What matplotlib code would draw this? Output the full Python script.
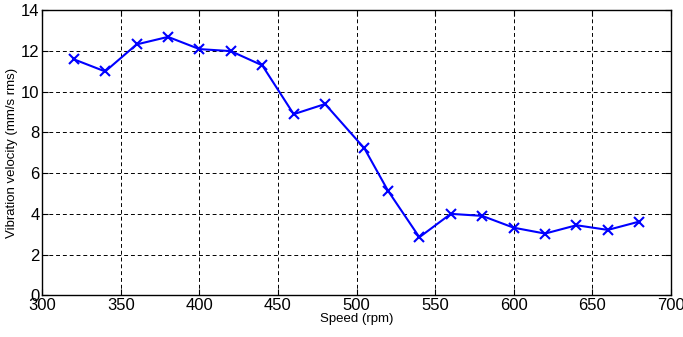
import matplotlib
matplotlib.use("Agg")
import matplotlib.pyplot as plt

plt.rcParams['font.family'] = ['Liberation Sans', 'DejaVu Sans']

speed = [320, 340, 360, 380, 400, 420, 440, 460, 480, 505, 520, 540, 560, 580, 600, 620, 640, 660, 680]
velocity = [11.6, 11.0, 12.33, 12.7, 12.1, 12.0, 11.3, 8.9, 9.4, 7.22, 5.14, 2.85, 4.0, 3.9, 3.32, 3.03, 3.44, 3.21, 3.62]

fig = plt.figure(figsize=(6.83, 3.37), dpi=100)
ax = fig.add_axes([0.062, 0.124, 0.92, 0.845])

ax.plot(speed, velocity, color='#0000ff', lw=1.5, marker='x', ms=7, mew=1.5)

ax.set_xlim(300, 700)
ax.set_ylim(0, 14)
ax.set_xticks(range(300, 701, 50))
ax.set_yticks(range(0, 15, 2))
ax.grid(True, color='black', linestyle=(0, (4, 3)), lw=0.7)
ax.tick_params(direction='in', top=True, right=True, labelsize=12, length=4, pad=2)
for s in ax.spines.values():
    s.set_linewidth(1.0)

ax.set_xlabel('Speed (rpm)', fontsize=9.5, labelpad=0)
ax.set_ylabel('Vibration velocity (mm/s rms)', fontsize=9.5, labelpad=2)

fig.savefig('out.png', dpi=100)
